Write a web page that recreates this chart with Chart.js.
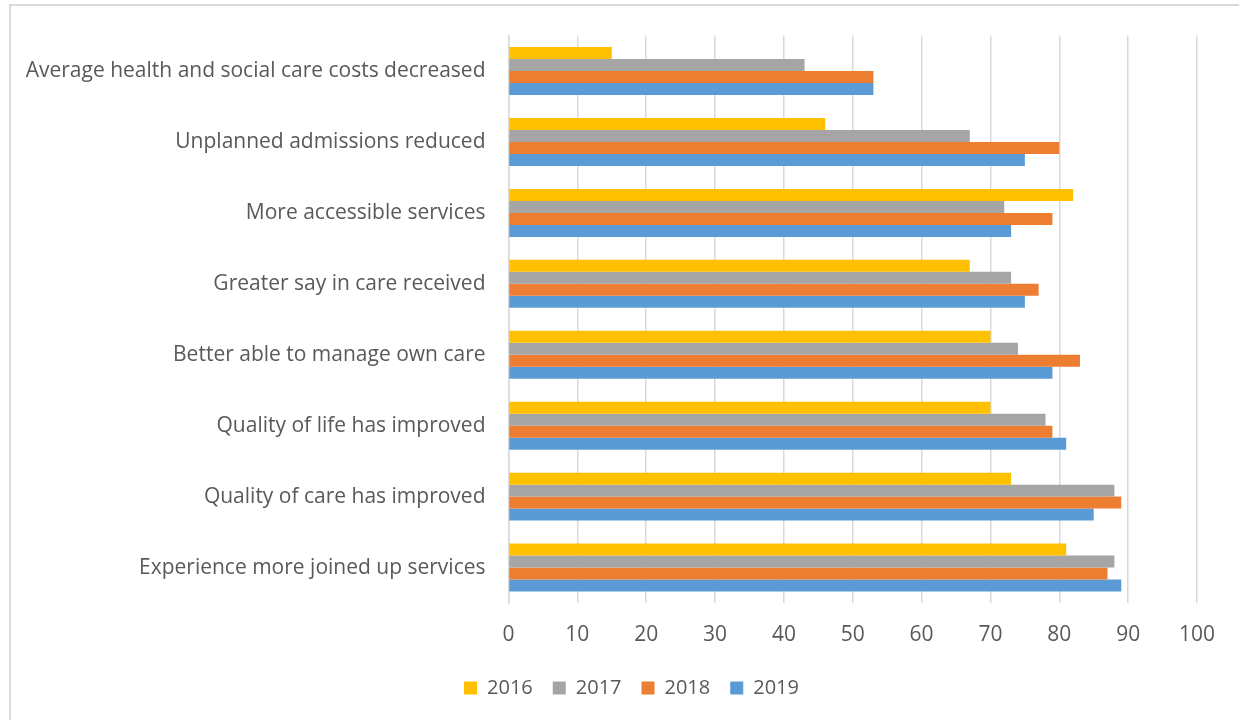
<!DOCTYPE html>
<html>
<head>
<meta charset="utf-8">
<script src="https://cdn.jsdelivr.net/npm/chart.js@4"></script>
<style>
  html, body { margin: 0; padding: 0; background: #fff; overflow: hidden; }
  #frame { position: absolute; left: 9px; top: 4px; width: 1300px; height: 800px; border: 2px solid #d9d9d9; }
  #wrap { position: absolute; left: 0; top: 0; width: 1239px; height: 720px; }
</style>
</head>
<body>
<div id="frame"></div>
<div id="wrap"><canvas id="myBarChart" width="1239" height="720"></canvas></div>
<script>
  // survey results, % agreeing, by year
  const categories = [
    "Average health and social care costs decreased",
    "Unplanned admissions reduced",
    "More accessible services",
    "Greater say in care received",
    "Better able to manage own care",
    "Quality of life has improved",
    "Quality of care has improved",
    "Experience more joined up services"
  ];
  const years = ["2016", "2017", "2018", "2019"];
  const values2016 = [15, 46, 82, 67, 70, 70, 73, 81];
  const values2017 = [43, 67, 72, 73, 74, 78, 88, 88];
  const values2018 = [53, 80, 79, 77, 83, 79, 89, 87];
  const values2019 = [53, 75, 73, 75, 79, 81, 85, 89];
  const xTicks = [0, 10, 20, 30, 40, 50, 60, 70, 80, 90, 100];

  const colours = ['#FFC000', '#A5A5A5', '#ED7D31', '#5B9BD5'];
  const allValues = [values2016, values2017, values2018, values2019];

  // nudge the legend right so it sits under the middle of the frame
  const legendShift = {
    id: 'legendShift',
    afterLayout: function(chart) {
      chart.legend.left += 33;
      chart.legend.right += 33;
    }
  };

  let ctx = document.getElementById("myBarChart").getContext('2d');
  let myBarChart = new Chart(ctx, {
    type: 'bar',
    data: {
      labels: categories,
      datasets: years.map((y, i) => ({
        label: y,
        data: allValues[i],
        backgroundColor: colours[i],
        borderWidth: 0,
        categoryPercentage: 0.676,
        barPercentage: 1.0
      }))
    },
    options: {
      indexAxis: 'y',
      responsive: false,
      animation: false,
      layout: { padding: { top: 34.5, right: 42, bottom: 12, left: 0 } },
      scales: {
        x: {
          min: 0,
          max: 100,
          afterBuildTicks: function(scale) {
            scale.ticks = xTicks.map(v => ({ value: v }));
          },
          afterFit: function(scale) { scale.height = 55; },
          grid: { color: '#d9d9d9', lineWidth: 1.5, drawTicks: false },
          border: { display: false },
          ticks: {
            color: '#595959',
            padding: 19,
            font: { family: 'Open Sans', size: 21 }
          }
        },
        y: {
          afterFit: function(scale) { scale.width = 508.5; },
          grid: { display: false, drawTicks: false },
          border: { display: true, color: '#d9d9d9', width: 1.5 },
          ticks: {
            color: '#595959',
            padding: 23,
            font: { family: 'Open Sans', size: 21 }
          }
        }
      },
      plugins: {
        legend: {
          display: true,
          position: 'bottom',
          labels: {
            boxWidth: 13,
            boxHeight: 13,
            padding: 20,
            color: '#595959',
            font: { family: 'Open Sans', size: 20 }
          }
        },
        tooltip: { enabled: false }
      }
    },
    plugins: [legendShift]
  });
</script>
</body>
</html>
